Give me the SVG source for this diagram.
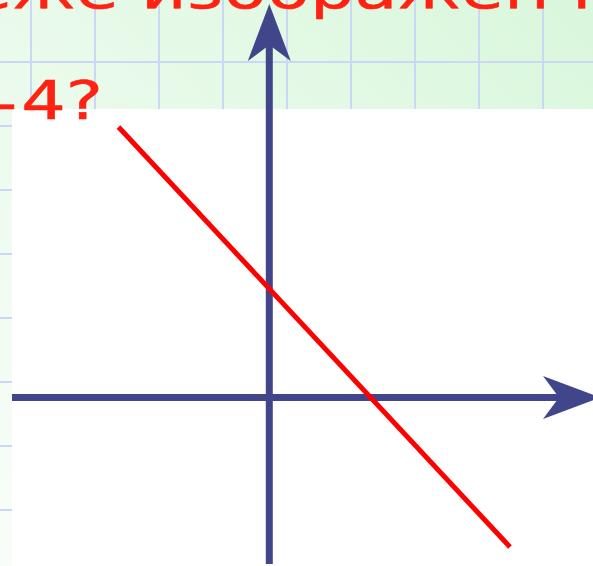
<svg xmlns="http://www.w3.org/2000/svg" width="593" height="566" viewBox="0 0 593 566">
  <style>
    .grid { stroke: #cbd7f6; stroke-width: 2; }
    .axis { stroke: #404689; stroke-width: 7; fill: none; }
    .title { fill: #ff2112; stroke: #ff2112; stroke-width: 0.5; font-family: "DejaVu Sans", Verdana, sans-serif; font-size: 54px; }
  </style>
  <defs>
    <linearGradient id="bg" x1="1" y1="0" x2="0" y2="1">
      <stop offset="0" stop-color="#d9f7dc"/>
      <stop offset="1" stop-color="#f9fdf9"/>
    </linearGradient>
    <marker id="arrow" markerUnits="userSpaceOnUse" markerWidth="60" markerHeight="46" viewBox="0 -23 60 46" refX="16" refY="0" orient="auto">
      <path d="M57,0 L0,-21.5 L16,0 L0,21.5 Z" fill="#404689"/>
    </marker>
  </defs>

  <g id="background">
    <rect x="0" y="0" width="593" height="566" fill="url(#bg)"/>
    <g class="grid">
      <line x1="31" y1="0" x2="31" y2="566"/>
      <line x1="95" y1="0" x2="95" y2="566"/>
      <line x1="159" y1="0" x2="159" y2="566"/>
      <line x1="223" y1="0" x2="223" y2="566"/>
      <line x1="287" y1="0" x2="287" y2="566"/>
      <line x1="351" y1="0" x2="351" y2="566"/>
      <line x1="415" y1="0" x2="415" y2="566"/>
      <line x1="479" y1="0" x2="479" y2="566"/>
      <line x1="543" y1="0" x2="543" y2="566"/>
      <line x1="0" y1="62" x2="593" y2="62"/>
      <line x1="0" y1="126" x2="593" y2="126"/>
      <line x1="0" y1="190" x2="593" y2="190"/>
      <line x1="0" y1="254" x2="593" y2="254"/>
      <line x1="0" y1="318" x2="593" y2="318"/>
      <line x1="0" y1="382" x2="593" y2="382"/>
      <line x1="0" y1="446" x2="593" y2="446"/>
      <line x1="0" y1="510" x2="593" y2="510"/>
    </g>
    <rect id="plot-area" x="12" y="109" width="581" height="457" fill="#ffffff"/>
  </g>

  <g id="title-text">
    <text class="title" transform="translate(-31,8) scale(1.3,1)">еже изображен г<tspan dx="-5">р</tspan></text>
    <text class="title" transform="translate(-8,119) scale(1.3,1)"><tspan dy="3">-</tspan><tspan dx="3" dy="-3">4?</tspan></text>
  </g>

  <g id="connectors">
    <line id="y-axis" class="axis" x1="269.3" y1="564" x2="269.3" y2="45" marker-end="url(#arrow)"/>
    <line id="x-axis" class="axis" x1="12" y1="397.5" x2="559" y2="397.5" marker-end="url(#arrow)"/>
    <line id="graph-line" x1="118.5" y1="127" x2="510" y2="547" stroke="#ff0000" stroke-width="5"/>
  </g>
</svg>
